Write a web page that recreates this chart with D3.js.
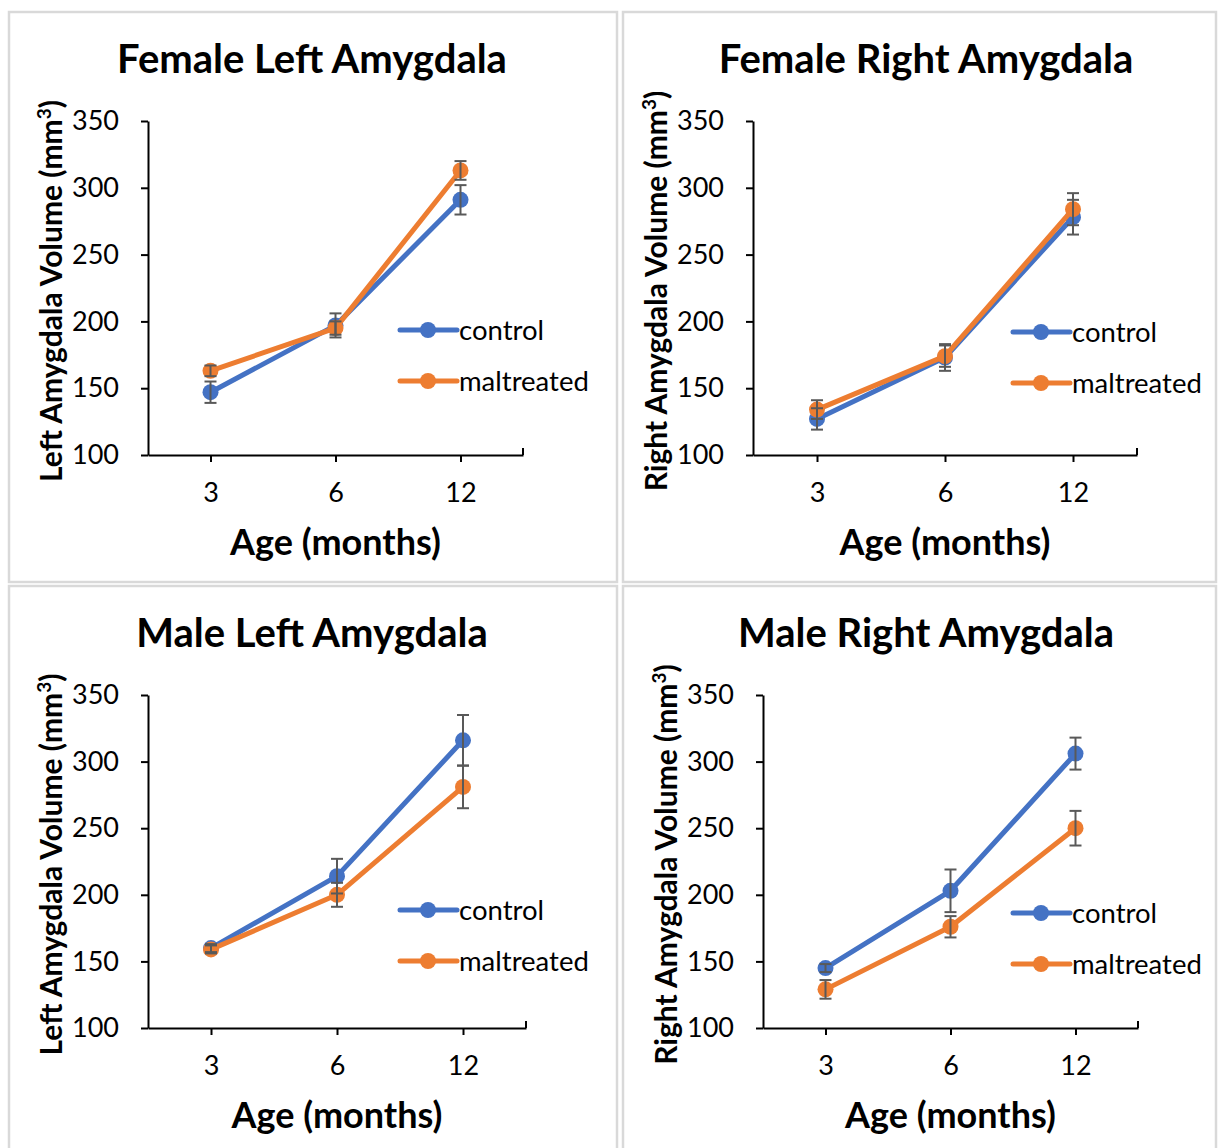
<!DOCTYPE html>
<html>
<head>
<meta charset="utf-8">
<script src="https://d3js.org/d3.v7.min.js"></script>
<style>
    body { margin: 0; background: #fff; }
    text { font-family: Lato, "Open Sans", sans-serif; fill: #000; }
</style>
</head>
<body>
<svg id="plot" width="1218" height="1148"></svg>
<script>
    // data
    const ages = ["3", "6", "12"];
    const seriesNames = ["control", "maltreated"];
    const yTicks = [100, 150, 200, 250, 300, 350];

    const femaleLeftControl = [147, 197, 291];
    const femaleLeftControlErr = [8, 9, 11];
    const femaleLeftMaltreated = [163, 195, 313];
    const femaleLeftMaltreatedErr = [4, 5, 7];

    const femaleRightControl = [127, 173, 278];
    const femaleRightControlErr = [8, 10, 13];
    const femaleRightMaltreated = [134, 174, 284];
    const femaleRightMaltreatedErr = [7, 8, 12];

    const maleLeftControl = [160, 214, 316];
    const maleLeftControlErr = [3, 13, 19];
    const maleLeftMaltreated = [159, 200, 281];
    const maleLeftMaltreatedErr = [3, 9, 16];

    const maleRightControl = [145, 203, 306];
    const maleRightControlErr = [3, 16, 12];
    const maleRightMaltreated = [129, 176, 250];
    const maleRightMaltreatedErr = [7, 8, 13];

    const colors = {control: "#4472C4", maltreated: "#ED7D31"};

    // panel layout (absolute page coords)
    const panels = [
        {title: "Female Left Amygdala", yLabel: "Left Amygdala Volume (mm", box: [9, 12, 608, 570], titleX: 312,
         x0: 148, x1: 523, yTop: 121, yBot: 455, legendX: 400, legendY: 330,
         values: [femaleLeftControl, femaleLeftMaltreated], errs: [femaleLeftControlErr, femaleLeftMaltreatedErr]},
        {title: "Female Right Amygdala", yLabel: "Right Amygdala Volume (mm", box: [623, 12, 593, 570], titleX: 926,
         x0: 753, x1: 1137, yTop: 121, yBot: 455, legendX: 1013, legendY: 332,
         values: [femaleRightControl, femaleRightMaltreated], errs: [femaleRightControlErr, femaleRightMaltreatedErr]},
        {title: "Male Left Amygdala", yLabel: "Left Amygdala Volume (mm", box: [9, 586, 608, 570], titleX: 312,
         x0: 148, x1: 526, yTop: 695, yBot: 1028, legendX: 400, legendY: 910,
         values: [maleLeftControl, maleLeftMaltreated], errs: [maleLeftControlErr, maleLeftMaltreatedErr]},
        {title: "Male Right Amygdala", yLabel: "Right Amygdala Volume (mm", box: [623, 586, 593, 570], titleX: 926,
         x0: 763, x1: 1138, yTop: 695, yBot: 1028, legendX: 1013, legendY: 913,
         values: [maleRightControl, maleRightMaltreated], errs: [maleRightControlErr, maleRightMaltreatedErr]}
    ];

    const svg = d3.select("svg#plot");

    panels.forEach(p => {
        const g = svg.append("g");

        //frame
        g.append("rect")
            .attr("x", p.box[0]).attr("y", p.box[1])
            .attr("width", p.box[2]).attr("height", p.box[3])
            .attr("fill", "white")
            .attr("stroke", "#d9d9d9")
            .attr("stroke-width", 2.5);

        const x = d3.scalePoint().domain(ages).range([p.x0, p.x1]).padding(0.5);
        const y = d3.scaleLinear().domain([100, 350]).range([p.yBot, p.yTop]);
        const plotCx = (p.x0 + p.x1) / 2;

        //title
        g.append("text")
            .attr("x", p.titleX)
            .attr("y", p.box[1] + 61)
            .attr("text-anchor", "middle")
            .style("font-size", "40px")
            .style("font-weight", "bold")
            .text(p.title);

        //y axis
        const yAxis = g.append("g")
            .attr("transform", `translate(${p.x0},0)`)
            .call(d3.axisLeft(y).tickValues(yTicks).tickSize(7).tickSizeOuter(0).tickPadding(22));
        yAxis.select(".domain").attr("stroke", "#000").attr("stroke-width", 2);
        yAxis.selectAll(".tick line").attr("stroke", "#000").attr("stroke-width", 2);
        yAxis.selectAll(".tick text")
            .attr("text-anchor", "end")
            .style("font-size", "27px")
            .style("font-family", "Lato, sans-serif");

        //x axis
        const xAxis = g.append("g")
            .attr("transform", `translate(0,${p.yBot})`)
            .call(d3.axisBottom(x).tickSize(7).tickSizeOuter(0).tickPadding(21));
        xAxis.select(".domain").attr("stroke", "#000").attr("stroke-width", 2);
        xAxis.selectAll(".tick line").attr("stroke", "#000").attr("stroke-width", 2);
        xAxis.selectAll(".tick text")
            .style("font-size", "27px")
            .style("font-family", "Lato, sans-serif");
        g.append("line")
            .attr("x1", p.x1).attr("x2", p.x1)
            .attr("y1", p.yBot).attr("y2", p.yBot - 7)
            .attr("stroke", "#000").attr("stroke-width", 2);

        //axis titles
        g.append("text")
            .attr("x", plotCx)
            .attr("y", p.yBot + 100)
            .attr("text-anchor", "middle")
            .style("font-size", "36px")
            .style("font-weight", "bold")
            .text("Age (months)");

        const yt = g.append("text")
            .attr("transform", `translate(${p.x0 - 86},${(p.yTop + p.yBot) / 2 + 3}) rotate(-90)`)
            .attr("text-anchor", "middle")
            .style("font-size", "30px")
            .style("font-weight", "bold")
            .text(p.yLabel);
        yt.append("tspan").attr("dy", -11).style("font-size", "19px").text("3");
        yt.append("tspan").attr("dy", 11).text(")");

        //series
        const line = d3.line().x((d, i) => x(ages[i])).y(d => y(d));
        seriesNames.forEach((name, s) => {
            const vals = p.values[s];
            g.append("path")
                .datum(vals)
                .attr("d", line)
                .attr("fill", "none")
                .attr("stroke", colors[name])
                .attr("stroke-width", 5)
                .attr("stroke-linejoin", "round");
            g.selectAll(null)
                .data(vals)
                .enter()
                .append("circle")
                .attr("cx", (d, i) => x(ages[i]))
                .attr("cy", d => y(d))
                .attr("r", 8)
                .attr("fill", colors[name]);
        });

        //error bars
        seriesNames.forEach((name, s) => {
            const vals = p.values[s];
            const errs = p.errs[s];
            const eb = g.append("g").attr("stroke", "#595959").attr("stroke-width", 2);
            vals.forEach((v, i) => {
                const cx = x(ages[i]);
                eb.append("line").attr("x1", cx).attr("x2", cx)
                    .attr("y1", y(v - errs[i])).attr("y2", y(v + errs[i]));
                [v - errs[i], v + errs[i]].forEach(e => {
                    eb.append("line").attr("x1", cx - 6).attr("x2", cx + 6)
                        .attr("y1", y(e)).attr("y2", y(e));
                });
            });
        });

        //legend
        const legend = g.append("g");
        seriesNames.forEach((name, i) => {
            const ly = p.legendY + i * 51;
            legend.append("line")
                .attr("x1", p.legendX).attr("x2", p.legendX + 57)
                .attr("y1", ly).attr("y2", ly)
                .attr("stroke", colors[name]).attr("stroke-width", 5)
                .attr("stroke-linecap", "round");
            legend.append("circle")
                .attr("cx", p.legendX + 28).attr("cy", ly)
                .attr("r", 8).attr("fill", colors[name]);
            legend.append("text")
                .attr("x", p.legendX + 59)
                .attr("y", ly)
                .attr("dy", "0.35em")
                .style("font-size", "27.5px")
                .text(name);
        });
    });
</script>
</body>
</html>
